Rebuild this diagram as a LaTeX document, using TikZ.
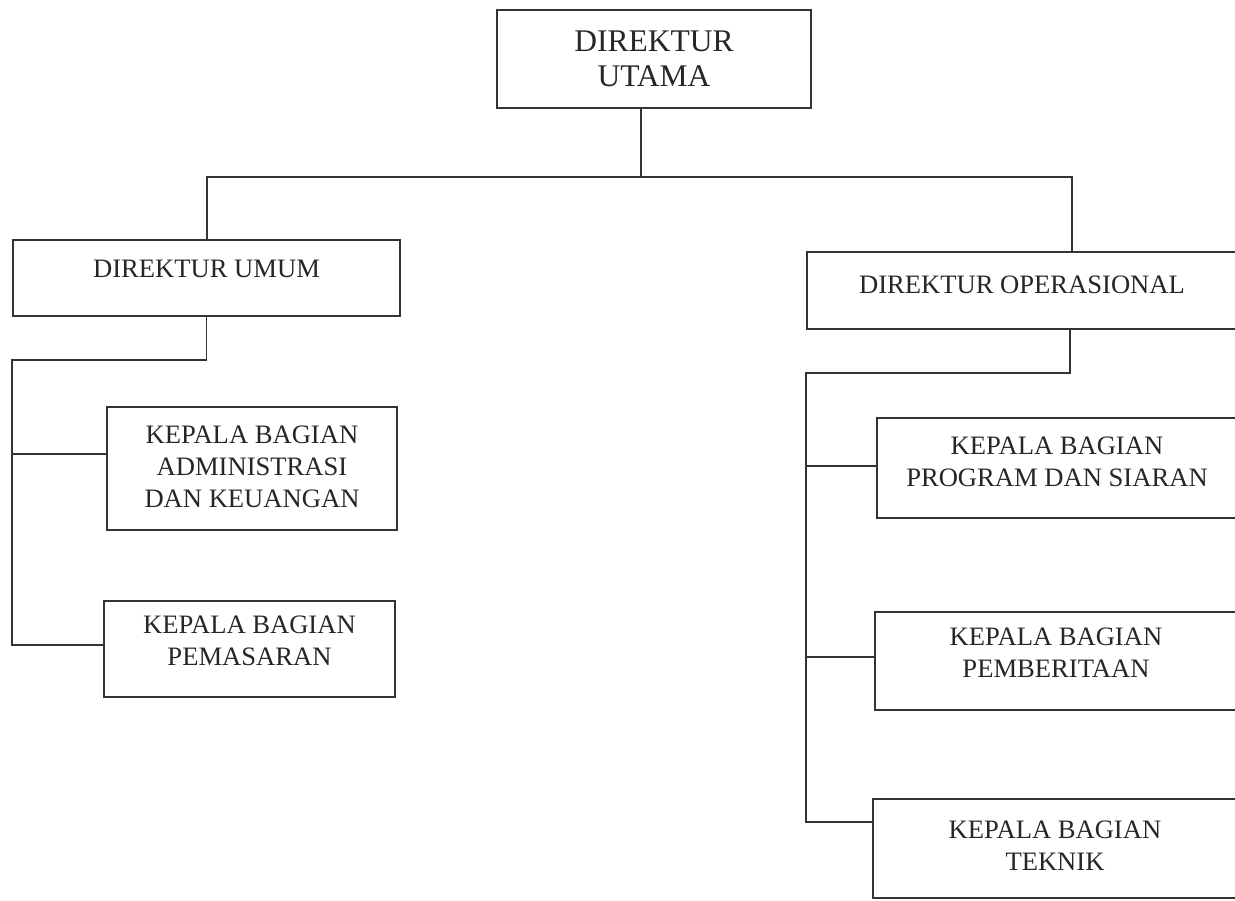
\documentclass[tikz,border=0pt]{standalone}
\usepackage{fontspec}
\setmainfont{Liberation Serif}
\begin{document}
\begin{tikzpicture}[x=1pt,y=-1pt,
  box/.style={draw=black!80, line width=1.3pt, inner sep=0pt, outer sep=0pt, rectangle},
  txt/.style={font=\fontsize{26.6}{32}\selectfont, align=center, text=black!85, inner sep=0pt},
  bigtxt/.style={font=\fontsize{31.5}{35}\selectfont, align=center, text=black!85, inner sep=0pt},
  conn/.style={draw=black!80, line width=1.3pt, line join=miter}]
\fill[white] (0,0) rectangle (1235,901);
\clip (0,0) rectangle (1235,901);
% boxes
\node[box, minimum width=314pt, minimum height=98pt,
  label={[bigtxt]center:DIREKTUR\\UTAMA}] (du) at (654,59) {};
\node[box, minimum width=387pt, minimum height=76pt,
  label={[txt,yshift=9pt]center:DIREKTUR UMUM}] (dumum) at (206.5,278) {};
\node[box, minimum width=430pt, minimum height=77pt,
  label={[txt,yshift=6pt]center:DIREKTUR OPERASIONAL}] (dirop) at (1022,290.5) {};
\node[box, minimum width=290pt, minimum height=123pt,
  label={[txt,yshift=2pt]center:KEPALA BAGIAN\\ADMINISTRASI\\DAN KEUANGAN}] (admin) at (252,468.5) {};
\node[box, minimum width=291pt, minimum height=96pt,
  label={[txt,yshift=8pt]center:KEPALA BAGIAN\\PEMASARAN}] (pemasaran) at (249.5,649) {};
\node[box, minimum width=360pt, minimum height=100pt,
  label={[txt,yshift=6pt]center:KEPALA BAGIAN\\PROGRAM DAN SIARAN}] (program) at (1057,468) {};
\node[box, minimum width=362pt, minimum height=98pt,
  label={[txt,yshift=8pt]center:KEPALA BAGIAN\\PEMBERITAAN}] (pemberitaan) at (1056,661) {};
\node[box, minimum width=364pt, minimum height=99pt,
  label={[txt,yshift=3pt]center:KEPALA BAGIAN\\TEKNIK}] (teknik) at (1055,848.5) {};
% coordinates
\coordinate (busM) at (641,177);
\coordinate (busL) at (207,177);
\coordinate (busR) at (1072,177);
\coordinate (l1) at (206.5,360);
\coordinate (l2) at (12,360);
\coordinate (la) at (12,454);
\coordinate (lb) at (12,645);
\coordinate (r1) at (1070,373);
\coordinate (r2) at (806,373);
\coordinate (ra) at (806,466);
\coordinate (rb) at (806,657);
\coordinate (rc) at (806,822);
% connectors
\draw[conn] (du.south -| busM) -- (busM);
\draw[conn] (dumum.north -| busL) -- (busL) -- (busR) -- (dirop.north -| busR);
\draw[conn] (dumum.south) -- (l1) -- (l2) -- (lb) -- (pemasaran.west |- lb);
\draw[conn] (la) -- (admin.west |- la);
\draw[conn] (dirop.south -| r1) -- (r1) -- (r2) -- (rc) -- (teknik.west |- rc);
\draw[conn] (ra) -- (program.west |- ra);
\draw[conn] (rb) -- (pemberitaan.west |- rb);
\end{tikzpicture}
\end{document}
